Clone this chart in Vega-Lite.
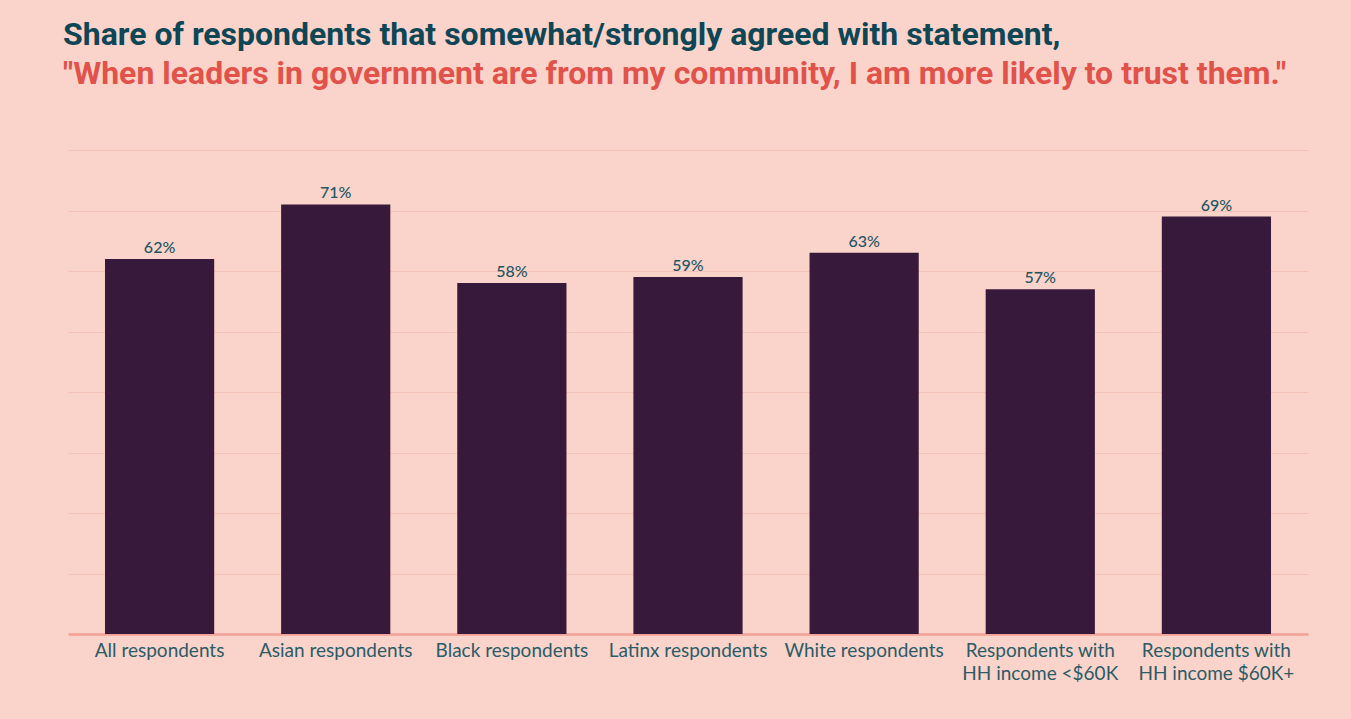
{
  "$schema": "https://vega.github.io/schema/vega-lite/v6.json",
  "width": 1240,
  "height": 484,
  "autosize": {"type": "none"},
  "padding": {"left": 68, "top": 150, "right": 43, "bottom": 85},
  "background": "#fad4ca",
  "title": {
    "text": "Share of respondents that somewhat/strongly agreed with statement,",
    "subtitle": "\"When leaders in government are from my community, I am more likely to trust them.\"",
    "anchor": "start",
    "frame": "group",
    "dx": -5,
    "offset": 59,
    "font": "Roboto",
    "fontSize": 32,
    "fontWeight": "bold",
    "color": "#0e4656",
    "subtitleFont": "Roboto",
    "subtitleFontSize": 32,
    "subtitleFontWeight": "bold",
    "subtitleColor": "#e0524a",
    "subtitlePadding": 7
  },
  "data": {
    "values": [
      {"group": "All respondents", "share": 0.62},
      {"group": "Asian respondents", "share": 0.71},
      {"group": "Black respondents", "share": 0.58},
      {"group": "Latinx respondents", "share": 0.59},
      {"group": "White respondents", "share": 0.63},
      {"group": "Respondents with|HH income <$60K", "share": 0.57},
      {"group": "Respondents with|HH income $60K+", "share": 0.69}
    ]
  },
  "encoding": {
    "x": {
      "field": "group",
      "type": "nominal",
      "sort": null,
      "scale": {"paddingInner": 0.38, "paddingOuter": 0.21},
      "axis": {
        "title": null,
        "labelAngle": 0,
        "labelExpr": "split(datum.label, '|')",
        "labelFont": "Lato",
        "labelFontSize": 19,
        "labelColor": "#2b5b67",
        "labelPadding": 7,
        "labelLineHeight": 23,
        "labelBaseline": "top",
        "ticks": false,
        "domainColor": "#f2a196",
        "domainWidth": 2.5,
        "grid": false
      }
    },
    "y": {
      "field": "share",
      "type": "quantitative",
      "scale": {"domain": [0, 0.8]},
      "axis": {
        "title": null,
        "labels": false,
        "ticks": false,
        "domain": false,
        "values": [0, 0.1, 0.2, 0.3, 0.4, 0.5, 0.6, 0.7, 0.8],
        "gridColor": "#f5c2b7",
        "gridWidth": 1
      }
    }
  },
  "layer": [
    {"mark": {"type": "bar", "color": "#37193c"}},
    {
      "mark": {"type": "text", "baseline": "bottom", "dy": -3, "font": "Lato", "fontSize": 16, "fontWeight": 500, "color": "#235561"},
      "encoding": {"text": {"field": "share", "type": "quantitative", "format": ".0%"}}
    }
  ],
  "config": {"view": {"stroke": null}}
}
